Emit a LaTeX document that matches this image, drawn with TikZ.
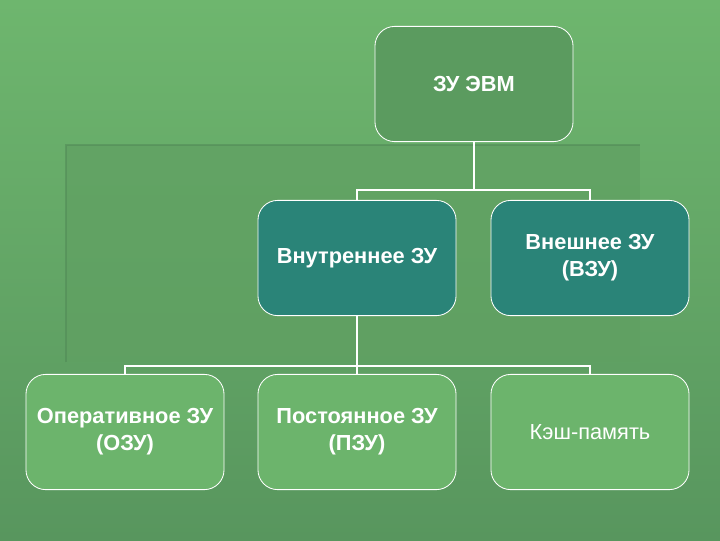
\documentclass[tikz,border=0pt]{standalone}
\usepackage{fontspec}
\setmainfont{Liberation Sans}
\definecolor{bgtop}{RGB}{110,182,110}
\definecolor{bgbot}{RGB}{88,150,94}
\definecolor{topfill}{RGB}{91,155,95}
\definecolor{tealfill}{RGB}{42,132,120}
\definecolor{leaffill}{RGB}{108,180,108}
\definecolor{panel}{RGB}{96,160,98}
\tikzset{
  unit/.style={draw=white, line width=0.6pt, rounded corners=14pt,
    minimum width=4.95cm, minimum height=2.88cm, align=center,
    text=white, font=\fontsize{15.5}{19}\selectfont\bfseries},
  link/.style={draw=white, line width=1.5pt}
}
\begin{document}
\begin{tikzpicture}[x=0.025cm, y=-0.025cm]
\shade[top color=bgtop, bottom color=bgbot] (0,0) rectangle (720,540);
\useasboundingbox (0,0) rectangle (720,540);
% faint panel behind the middle row
\fill[panel, opacity=0.7] (66,145) rectangle (640,362);
\draw[bgbot!90!black, opacity=0.5, line width=2pt] (66,362) -- (66,145) -- (640,145);
% boxes
\node[unit, fill=topfill] (evm) at (474,84) {ЗУ ЭВМ};
\node[unit, fill=tealfill] (vnutr) at (357,258) {Внутреннее ЗУ};
\node[unit, fill=tealfill] (vnesh) at (590,258) {Внешнее ЗУ\\(ВЗУ)};
\node[unit, fill=leaffill] (ozu) at (125,432) {Оперативное ЗУ\\(ОЗУ)};
\node[unit, fill=leaffill] (pzu) at (357,432) {Постоянное ЗУ\\(ПЗУ)};
\node[unit, fill=leaffill, font=\fontsize{15.5}{19}\selectfont] (kesh) at (590,432) {Кэш-память};
% connectors
\draw[link] (evm.south) -- ++(0,48) coordinate (j1);
\draw[link] (j1) -| (vnutr.north);
\draw[link] (j1) -| (vnesh.north);
\draw[link] (vnutr.south) -- ++(0,50) coordinate (j2);
\draw[link] (j2) -| (ozu.north);
\draw[link] (j2) -- (pzu.north);
\draw[link] (j2) -| (kesh.north);
\end{tikzpicture}
\end{document}
